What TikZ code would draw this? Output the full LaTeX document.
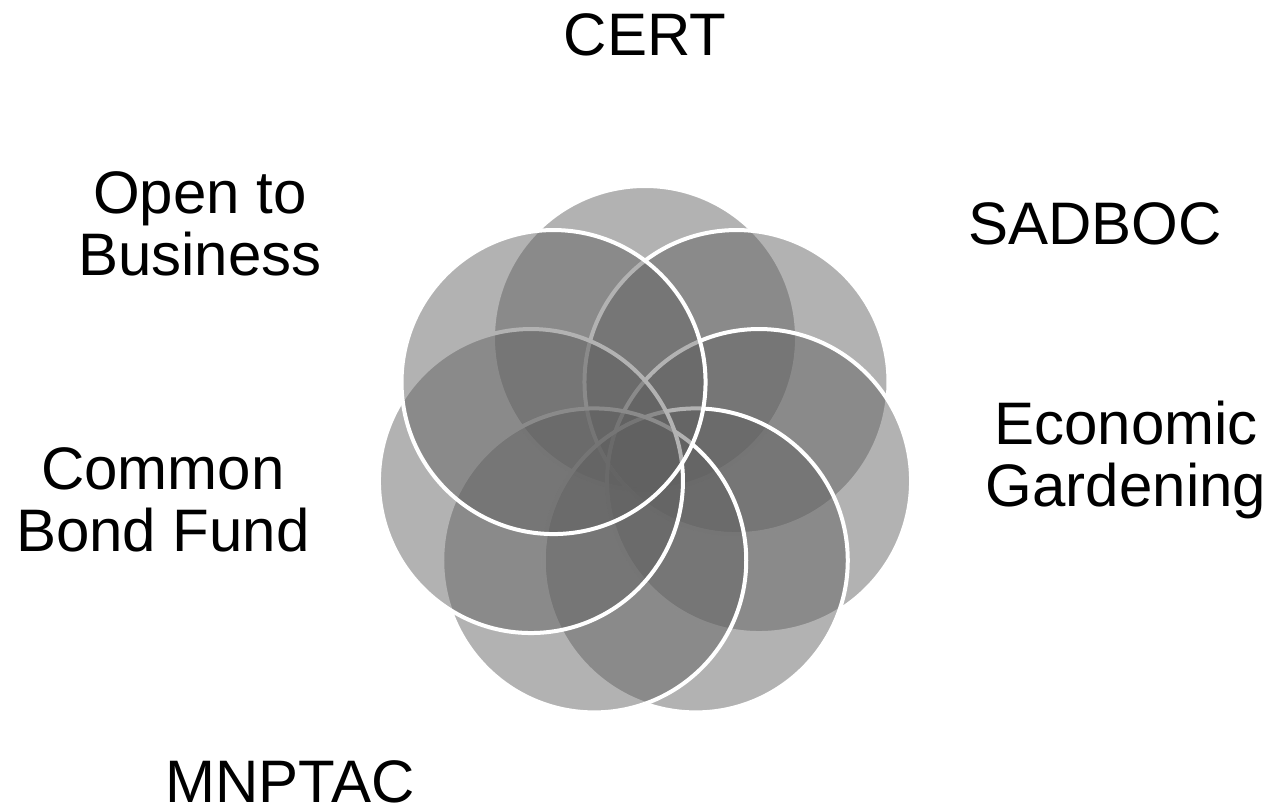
\documentclass[tikz,border=0pt]{standalone}
\usepackage{fontspec}
\setmainfont{Liberation Sans}
\usetikzlibrary{positioning}
\definecolor{petalgray}{gray}{0.372}

\begin{document}
\begin{tikzpicture}[x=0.5pt,y=-0.5pt,
  petal/.style={fill=petalgray,fill opacity=0.48,draw=white,line width=2pt},
  lbl/.style={font=\fontsize{30}{31}\selectfont,align=center,anchor=base,inner sep=0pt}]
\useasboundingbox (0,0) rectangle (1272,812);
\coordinate (mitte) at (645,455);
% seven petals, clockwise from the top
\foreach \k in {0,...,6}
  \draw[petal] (mitte) ++({-90+\k*360/7}:117) circle (152);
% labels (base = last line)
\node[lbl] (cert) at (645,56) {CERT};
\node[lbl] (sadboc) at (1095,245) {SADBOC};
\node[lbl] (econ) at (1126,506) {Economic\\Gardening};
\node[lbl] (mnptac) at (290,802) {MNPTAC};
\node[lbl] (common) at (163,551) {Common\\Bond Fund};
\node[lbl] (open) at (200,276) {Open to\\Business};
\end{tikzpicture}
\end{document}
